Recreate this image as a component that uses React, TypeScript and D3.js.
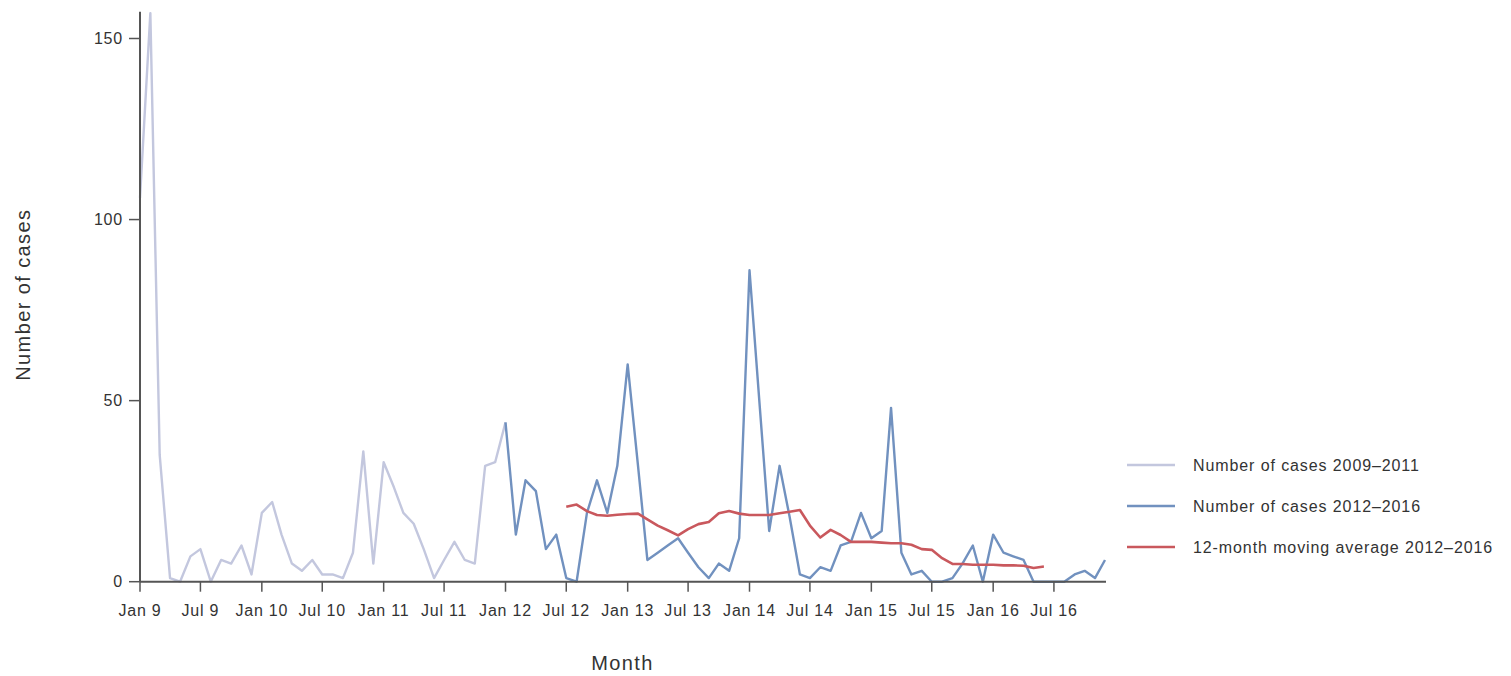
import React from "react";
import * as d3 from "d3";

// Monthly case counts, Jan 2009 – Dec 2011
const cases2009_2011: number[] = [
  106, 157, 35, 1, 0, 7, 9, 0, 6, 5, 10, 2,
  19, 22, 13, 5, 3, 6, 2, 2, 1, 8, 36, 5,
  33, 26, 19, 16, 9, 1, 6, 11, 6, 5, 32, 33,
];
// Monthly case counts, Jan 2012 – Dec 2016
const cases2012_2016: number[] = [
  44, 13, 28, 25, 9, 13, 1, 0, 19, 28, 19, 32,
  60, 32, 6, 8, 10, 12, 8, 4, 1, 5, 3, 12,
  86, 48, 14, 32, 18, 2, 1, 4, 3, 10, 11, 19,
  12, 14, 48, 8, 2, 3, 0, 0, 1, 5, 10, 0,
  13, 8, 7, 6, 0, 0, 0, 0, 2, 3, 1, 6,
];
// 12-month moving average, Jul 2012 – Jun 2016
const movingAvg: number[] = [
  20.7, 21.3, 19.5, 18.4, 18.2, 18.5,
  18.7, 18.8, 17.2, 15.5, 14.2, 12.8, 14.5, 15.9, 16.5, 18.9, 19.5, 18.8,
  18.4, 18.4, 18.4, 18.9, 19.3, 19.8, 15.5, 12.2, 14.3, 12.9, 11.0, 11.0,
  11.0, 10.8, 10.6, 10.6, 10.2, 9.0, 8.8, 6.5, 4.9, 4.9, 4.7, 4.7,
  4.7, 4.5, 4.5, 4.4, 3.8, 4.2,
];
const yTicks: number[] = [0, 50, 100, 150];
const monthNames: string[] = ["Jan", "Jul"];
const legendLabels: string[] = [
  "Number of cases 2009\u20132011",
  "Number of cases 2012\u20132016",
  "12-month moving average 2012\u20132016",
];
const colors: string[] = ["#c3c7de", "#7191bf", "#c9585d"];

const W = 1511;
const H = 676;
const FONT = "'Liberation Sans', Arial, sans-serif";

export default function App() {
  const x = d3
    .scaleTime()
    .domain([new Date(2009, 0, 1), new Date(2016, 11, 1)])
    .range([140, 1105]);
  const y = d3.scaleLinear().domain([0, 157.4]).range([581.7, 11.7]);

  const start1 = new Date(2009, 0, 1);
  const start2 = new Date(2012, 0, 1);
  const start3 = new Date(2012, 6, 1);
  const d1 = cases2009_2011.map((v, i) => ({ d: d3.timeMonth.offset(start1, i), v }));
  const d2 = cases2012_2016.map((v, i) => ({ d: d3.timeMonth.offset(start2, i), v }));
  const d3s = movingAvg.map((v, i) => ({ d: d3.timeMonth.offset(start3, i), v }));
  const d1full = [...d1, d2[0]];

  const line = d3
    .line<{ d: Date; v: number }>()
    .x((p) => x(p.d))
    .y((p) => y(p.v));

  const xTickDates = d3.timeMonth.every(6)!.range(new Date(2009, 0, 1), new Date(2016, 7, 1));
  const xLabel = (d: Date) => `${monthNames[d.getMonth() === 0 ? 0 : 1]} ${d.getFullYear() - 2000}`;

  const [x0, x1] = x.range();
  const [yb, yt] = y.range();

  return (
    <div style={{ position: "absolute", left: 0, top: 0 }}>
      <svg width={W} height={H} style={{ display: "block", background: "#fff" }}>
        {/* lines */}
        <path d={line(d1full) || ""} fill="none" stroke={colors[0]} strokeWidth={2.4} strokeLinejoin="round" />
        <path d={line(d2) || ""} fill="none" stroke={colors[1]} strokeWidth={2.4} strokeLinejoin="round" />
        <path d={line(d3s) || ""} fill="none" stroke={colors[2]} strokeWidth={2.6} strokeLinejoin="round" />

        {/* y axis */}
        <line x1={x0} x2={x0} y1={yt} y2={yb} stroke="#555" strokeWidth={2} />
        {yTicks.map((t) => (
          <g key={t}>
            <line x1={x0 - 11} x2={x0} y1={y(t)} y2={y(t)} stroke="#555" strokeWidth={1.5} />
            <text
              x={x0 - 17}
              y={y(t)}
              dy="0.35em"
              textAnchor="end"
              fontFamily={FONT}
              fontSize={16}
              letterSpacing={0.8}
              fill="#333"
            >
              {t}
            </text>
          </g>
        ))}

        {/* x axis */}
        <line x1={x0} x2={x1 + 1} y1={yb} y2={yb} stroke="#555" strokeWidth={2} />
        {xTickDates.map((d, i) => (
          <g key={i}>
            <line x1={x(d)} x2={x(d)} y1={yb} y2={yb + 10} stroke="#555" strokeWidth={1.5} />
            <text
              x={x(d)}
              y={yb + 29}
              dy="0.35em"
              textAnchor="middle"
              fontFamily={FONT}
              fontSize={16}
              letterSpacing={0.8}
              fill="#333"
            >
              {xLabel(d)}
            </text>
          </g>
        ))}

        {/* axis titles */}
        <text
          x={(x0 + x1) / 2}
          y={670}
          textAnchor="middle"
          fontFamily={FONT}
          fontSize={20}
          letterSpacing={1.4}
          fill="#333"
        >
          Month
        </text>
        <text
          transform={`translate(30, ${(yt + yb) / 2 - 2}) rotate(-90)`}
          textAnchor="middle"
          fontFamily={FONT}
          fontSize={20}
          letterSpacing={1.4}
          fill="#333"
        >
          Number of cases
        </text>

        {/* legend */}
        {legendLabels.map((lab, i) => {
          const ly = 465 + i * 41;
          return (
            <g key={lab}>
              <line x1={1127} x2={1175} y1={ly} y2={ly} stroke={colors[i]} strokeWidth={2.6} />
              <text
                x={1193}
                y={ly}
                dy="0.35em"
                fontFamily={FONT}
                fontSize={16}
                letterSpacing={0.9}
                fill="#333"
              >
                {lab}
              </text>
            </g>
          );
        })}
      </svg>
    </div>
  );
}
